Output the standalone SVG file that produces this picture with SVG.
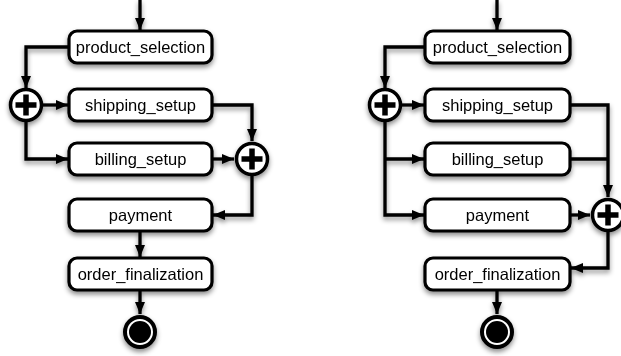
<svg xmlns="http://www.w3.org/2000/svg" width="621" height="356" viewBox="0 0 621 356">
<style>
.box{fill:#fff;stroke:#000;stroke-width:3.2}
.lbl{font-family:"Liberation Sans",Arial,sans-serif;font-size:16.5px;fill:#000;text-anchor:middle;dominant-baseline:central}
.gw{fill:#fff;stroke:#000;stroke-width:3.5}
.plus{stroke:#000;stroke-width:5.5;fill:none}
.edge{fill:none;stroke:#000;stroke-width:3.3}
</style>
<defs>
<filter id="sh" x="-30%" y="-30%" width="160%" height="170%">
<feDropShadow dx="0" dy="3" stdDeviation="2.5" flood-color="#000" flood-opacity="0.45"/>
</filter>
<marker id="ar" markerUnits="userSpaceOnUse" markerWidth="13" markerHeight="13" viewBox="0 0 13 13" refX="12" refY="6.5" orient="auto">
<path d="M0,1.5 L12,6.5 L0,11.5 Z" fill="#000"/>
</marker>
</defs>
<g filter="url(#sh)">
<g id="connectors">
<path class="edge" d="M140,0 V30" marker-end="url(#ar)"/>
<path class="edge" d="M69,47 H26 V88" marker-end="url(#ar)"/>
<path class="edge" d="M43,105 H68" marker-end="url(#ar)"/>
<path class="edge" d="M26,122 V159 H68" marker-end="url(#ar)"/>
<path class="edge" d="M212,105 H252 V141" marker-end="url(#ar)"/>
<path class="edge" d="M212,159 H234" marker-end="url(#ar)"/>
<path class="edge" d="M252,176 V215 H213" marker-end="url(#ar)"/>
<path class="edge" d="M140,231 V257" marker-end="url(#ar)"/>
<path class="edge" d="M140,290 V314" marker-end="url(#ar)"/>
<path class="edge" d="M497,0 V30" marker-end="url(#ar)"/>
<path class="edge" d="M425,47 H385 V88" marker-end="url(#ar)"/>
<path class="edge" d="M402,105 H424" marker-end="url(#ar)"/>
<path class="edge" d="M385,122 V215 H424" marker-end="url(#ar)"/>
<path class="edge" d="M385,159 H424" marker-end="url(#ar)"/>
<path class="edge" d="M570,105 H608 V197" marker-end="url(#ar)"/>
<path class="edge" d="M570,159 H608"/>
<path class="edge" d="M570,215 H590" marker-end="url(#ar)"/>
<path class="edge" d="M608,232 V268 H571" marker-end="url(#ar)"/>
<path class="edge" d="M497,290 V314" marker-end="url(#ar)"/>
</g>
<g id="l_product_selection"><rect class="box" x="69" y="31" width="143" height="32" rx="8"/><text class="lbl" x="140.5" y="47">product_selection</text></g>
<g id="l_fork"><circle class="gw" cx="26" cy="105" r="15.5"/><path class="plus" d="M15.5,105 H36.5 M26,94.5 V115.5"/></g>
<g id="l_shipping_setup"><rect class="box" x="69" y="89" width="143" height="32" rx="8"/><text class="lbl" x="140.5" y="105">shipping_setup</text></g>
<g id="l_billing_setup"><rect class="box" x="69" y="143" width="143" height="32" rx="8"/><text class="lbl" x="140.5" y="159">billing_setup</text></g>
<g id="l_join"><circle class="gw" cx="252" cy="159" r="15.5"/><path class="plus" d="M241.5,159 H262.5 M252,148.5 V169.5"/></g>
<g id="l_payment"><rect class="box" x="69" y="199" width="143" height="32" rx="8"/><text class="lbl" x="140.5" y="215">payment</text></g>
<g id="l_order_finalization"><rect class="box" x="69" y="258" width="143" height="32" rx="8"/><text class="lbl" x="140.5" y="274">order_finalization</text></g>
<g id="l_end"><circle cx="140" cy="332" r="15" fill="#fff" stroke="#000" stroke-width="4"/><circle cx="140" cy="332" r="11" fill="#000"/></g>
<g id="r_product_selection"><rect class="box" x="425" y="31" width="145" height="32" rx="8"/><text class="lbl" x="497.5" y="47">product_selection</text></g>
<g id="r_fork"><circle class="gw" cx="385" cy="105" r="15.5"/><path class="plus" d="M374.5,105 H395.5 M385,94.5 V115.5"/></g>
<g id="r_shipping_setup"><rect class="box" x="425" y="89" width="145" height="32" rx="8"/><text class="lbl" x="497.5" y="105">shipping_setup</text></g>
<g id="r_billing_setup"><rect class="box" x="425" y="143" width="145" height="32" rx="8"/><text class="lbl" x="497.5" y="159">billing_setup</text></g>
<g id="r_payment"><rect class="box" x="425" y="199" width="145" height="32" rx="8"/><text class="lbl" x="497.5" y="215">payment</text></g>
<g id="r_join"><circle class="gw" cx="608" cy="215" r="15.5"/><path class="plus" d="M597.5,215 H618.5 M608,204.5 V225.5"/></g>
<g id="r_order_finalization"><rect class="box" x="425" y="258" width="145" height="32" rx="8"/><text class="lbl" x="497.5" y="274">order_finalization</text></g>
<g id="r_end"><circle cx="497" cy="332" r="15" fill="#fff" stroke="#000" stroke-width="4"/><circle cx="497" cy="332" r="11" fill="#000"/></g>
</g>
</svg>
